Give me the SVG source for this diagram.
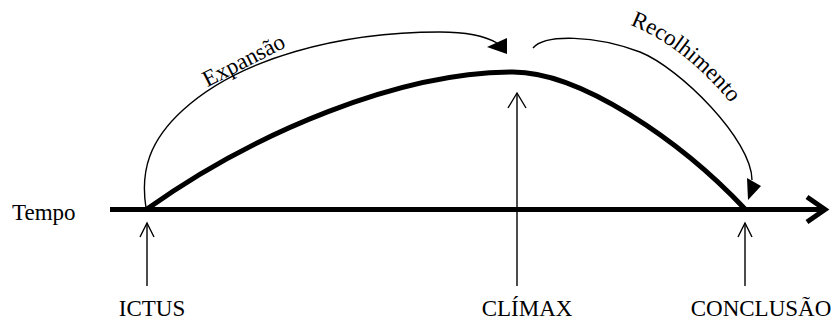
<svg xmlns="http://www.w3.org/2000/svg" width="838" height="322" viewBox="0 0 838 322">
<style>
.lbl{font-family:"Liberation Serif","Times New Roman",serif;font-size:23px;fill:#000}
.thick{fill:none;stroke:#000;stroke-width:5}
.thin{fill:none;stroke:#000;stroke-width:1.4}
.head{fill:#000;stroke:none}
</style>
<defs>
<path id="recPath" d="M 630,25 Q 687,47 738,112"/>
</defs>
<rect width="838" height="322" fill="#fff"/>
<g id="connectors">
<line class="thick" x1="110" y1="209.5" x2="823" y2="209.5"/>
<polyline class="thick" points="807,197 825,209.5 807,222"/>
<path class="thick" d="M147,209 C255,132 400,72 513,72 C580,72 680,140 745,209"/>
<path class="thin" d="M146,208 C140,170 150,140 183,110 C240,58 340,32 440,32 C465,32 485,36 497,43"/>
<polygon class="head" points="487,47 507,38 507,54"/>
<path class="thin" d="M533,48 C545,34 595,35 640,52 C680,68 752,140 752,180"/>
<polygon class="head" points="747,178 761,186 748,200"/>
<line class="thin" x1="147" y1="286" x2="147" y2="223"/>
<polyline class="thin" points="140,237 147,223 154,237"/>
<line class="thin" x1="517" y1="286" x2="517" y2="93"/>
<polyline class="thin" points="508,108 517,93 526,108"/>
<line class="thin" x1="745" y1="286" x2="745" y2="223"/>
<polyline class="thin" points="738,237 745,223 752,237"/>
</g>
<g id="tempo"><text class="lbl" x="12" y="220">Tempo</text></g>
<g id="ictus"><text class="lbl" x="152" y="316" text-anchor="middle">ICTUS</text></g>
<g id="climax"><text class="lbl" x="527" y="316" text-anchor="middle">CLÍMAX</text></g>
<g id="conclusao"><text class="lbl" x="761" y="316" text-anchor="middle">CONCLUSÃO</text></g>
<g id="expansao"><text class="lbl" x="247" y="67" text-anchor="middle" transform="rotate(-27 247 67)">Expansão</text></g>
<g id="recolhimento"><text class="lbl"><textPath href="#recPath">Recolhimento</textPath></text></g>
</svg>
